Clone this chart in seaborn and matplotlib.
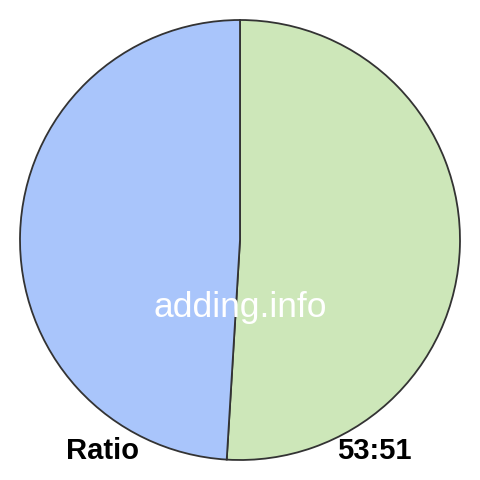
import matplotlib
matplotlib.use('Agg')
import matplotlib.pyplot as plt
import seaborn as sns

# ratio values
labels = ['53', '51']
values = [53, 51]
colors = ['#cde7b9', '#a9c5fb']

sns.set_theme(style='white')
plt.rcParams['font.family'] = ['Liberation Sans', 'DejaVu Sans']

fig = plt.figure(figsize=(4.8, 4.8), dpi=100)
ax = fig.add_axes([20 / 480, 20 / 480, 440 / 480, 440 / 480])
ax.pie(values, colors=colors, startangle=90, counterclock=False,
       wedgeprops={'edgecolor': '#333333', 'linewidth': 1.3})
ax.set_xlim(-1.0, 1.0)
ax.set_ylim(-1.0, 1.0)
ax.set_aspect('equal')
ax.axis('off')

fig.text(240 / 480, 1 - 307 / 480, 'adding.info', color='white', fontsize=25.5,
         ha='center', va='center')
fig.text(103 / 480, 1 - 451 / 480, 'Ratio', color='black', fontsize=21,
         fontweight='bold', ha='center', va='center')
fig.text(374 / 480, 1 - 451 / 480, f'{values[0]}:{values[1]}', color='black', fontsize=21,
         fontweight='bold', ha='center', va='center')

fig.savefig('out.png', dpi=100)
